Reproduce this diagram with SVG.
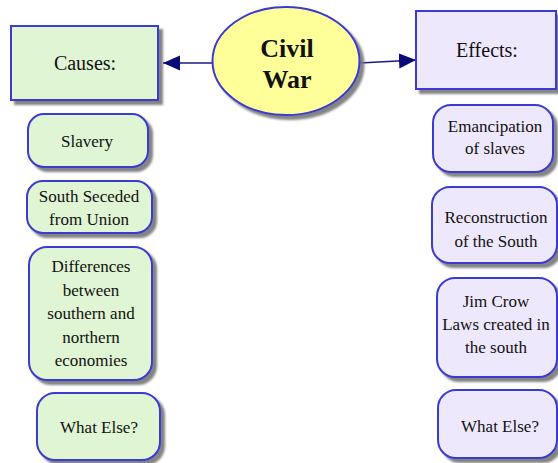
<svg xmlns="http://www.w3.org/2000/svg" width="558" height="463" viewBox="0 0 558 463">
<defs>
<filter id="sh" x="-10%" y="-10%" width="130%" height="130%">
<feDropShadow dx="4" dy="4" stdDeviation="1" flood-color="#777" flood-opacity="0.9"/>
</filter>
<marker id="ah" markerWidth="18" markerHeight="16" refX="17" refY="7.5" orient="auto" markerUnits="userSpaceOnUse">
<path d="M0,0 L17,7.5 L0,15 Z" fill="#0a0a78"/>
</marker>
</defs>
<style>
.g{fill:#e0f5d3;stroke:#3a3ad0;stroke-width:2;filter:url(#sh)}
.p{fill:#eee8fc;stroke:#3a3ad0;stroke-width:2;filter:url(#sh)}
.y{fill:#ffff99;stroke:#3a3ad0;stroke-width:2;filter:url(#sh)}
.t,.h,.b{fill:#111;text-anchor:middle;font-family:'Liberation Serif','Times New Roman',serif}
.t{font-size:17px}
.h{font-size:20px}
.b{font-size:26px;font-weight:bold}
.c{stroke:#1a1a80;stroke-width:1.6;fill:none;marker-end:url(#ah)}
</style>
<g id="connectors">
<line class="c" x1="212" y1="63" x2="163" y2="63"/>
<line class="c" x1="360" y1="63" x2="416" y2="60"/>
</g>
<g id="civil-war">
<ellipse class="y" cx="286" cy="61" rx="73.5" ry="54"/>
<text class="b" x="287" y="57">Civil</text>
<text class="b" x="287" y="88">War</text>
</g>
<g id="causes">
<rect class="g" x="11" y="26" width="147" height="74"/>
<text class="h" x="85" y="70">Causes:</text>
</g>
<g id="effects">
<rect class="p" x="416" y="11" width="140" height="78"/>
<text class="h" x="487" y="57">Effects:</text>
</g>
<g id="slavery">
<rect class="g" x="28" y="114" width="120" height="53" rx="16"/>
<text class="t" x="87" y="147">Slavery</text>
</g>
<g id="seceded">
<rect class="g" x="27" y="181" width="125" height="52" rx="16"/>
<text class="t" x="89" y="202">South Seceded</text>
<text class="t" x="89" y="225">from Union</text>
</g>
<g id="differences">
<rect class="g" x="29" y="247" width="123" height="133" rx="18"/>
<text class="t" x="91" y="272">Differences</text>
<text class="t" x="91" y="296">between</text>
<text class="t" x="91" y="319">southern and</text>
<text class="t" x="91" y="343">northern</text>
<text class="t" x="91" y="366">economies</text>
</g>
<g id="what-else-causes">
<rect class="g" x="37" y="393" width="123" height="67" rx="18"/>
<text class="t" x="99" y="433">What Else?</text>
</g>
<g id="emancipation">
<rect class="p" x="433" y="105" width="120" height="67" rx="18"/>
<text class="t" x="495" y="132">Emancipation</text>
<text class="t" x="495" y="154">of slaves</text>
</g>
<g id="reconstruction">
<rect class="p" x="432" y="187" width="125" height="76" rx="18"/>
<text class="t" x="496" y="223">Reconstruction</text>
<text class="t" x="496" y="247">of the South</text>
</g>
<g id="jim-crow">
<rect class="p" x="437" y="278" width="120" height="99" rx="18"/>
<text class="t" x="496" y="307">Jim Crow</text>
<text class="t" x="496" y="330">Laws created in</text>
<text class="t" x="496" y="353">the south</text>
</g>
<g id="what-else-effects">
<rect class="p" x="438" y="390" width="119" height="68" rx="18"/>
<text class="t" x="500" y="432">What Else?</text>
</g>
</svg>
